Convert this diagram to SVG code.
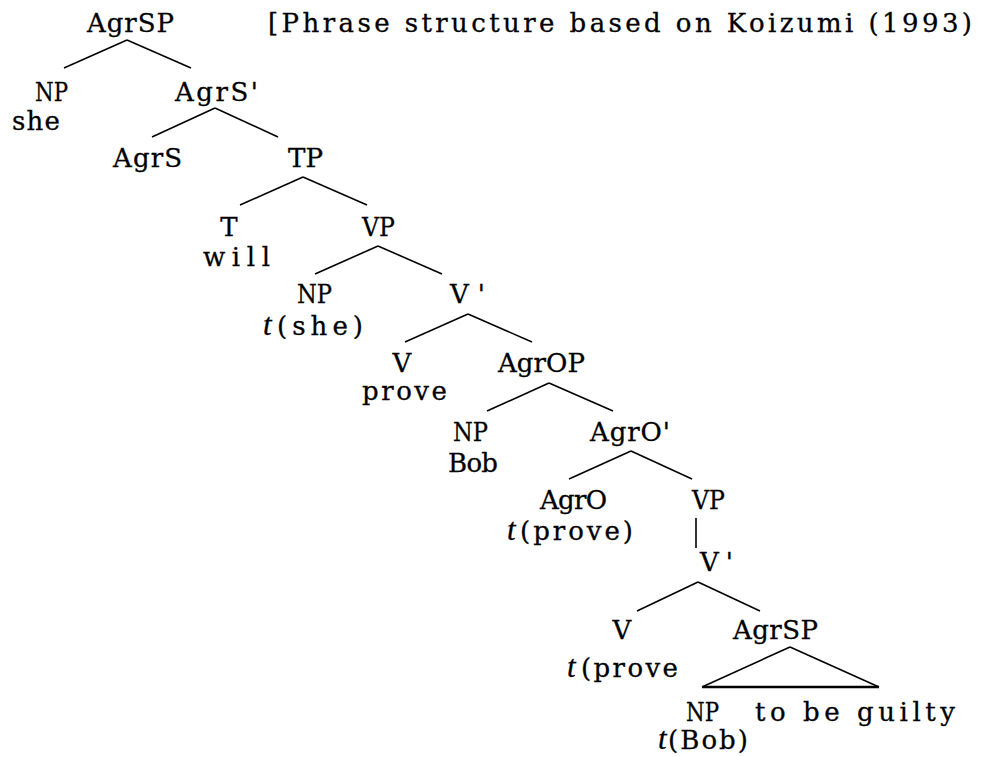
<svg xmlns="http://www.w3.org/2000/svg" width="982" height="757" viewBox="0 0 982 757">
<style>
text{font-family:"DejaVu Serif","Liberation Serif",serif;font-size:26px;fill:#000;stroke:#000;stroke-width:0.3}
.it{font-family:"Liberation Serif","DejaVu Serif",serif;font-style:italic;font-size:31px}
.mid{text-anchor:middle}
.edge line,.edge path{stroke:#000;stroke-width:1.6;fill:none;stroke-linecap:butt}
</style>
<rect width="982" height="757" fill="#fff"/>
<g class="edge" id="connectors">
<line x1="127" y1="40" x2="64" y2="68"/>
<line x1="127" y1="40" x2="191" y2="68"/>
<line x1="215" y1="108" x2="152" y2="137"/>
<line x1="215" y1="108" x2="278" y2="137"/>
<line x1="303" y1="177" x2="240" y2="205"/>
<line x1="303" y1="177" x2="367" y2="205"/>
<line x1="378" y1="246" x2="315" y2="274"/>
<line x1="378" y1="246" x2="442" y2="274"/>
<line x1="468" y1="314" x2="405" y2="342"/>
<line x1="468" y1="314" x2="532" y2="342"/>
<line x1="549" y1="383" x2="487" y2="411"/>
<line x1="549" y1="383" x2="613" y2="411"/>
<line x1="631" y1="451" x2="569" y2="479"/>
<line x1="631" y1="451" x2="692" y2="479"/>
<line x1="696" y1="518" x2="696" y2="548"/>
<line x1="698" y1="582" x2="637" y2="611"/>
<line x1="698" y1="582" x2="760" y2="611"/>
<path d="M790 647 L702 687 M790 647 L879 687"/>
<line x1="702" y1="687" x2="879" y2="687" style="stroke-width:2.4"/>
</g>
<g id="title"><text x="268" y="32" textLength="704" lengthAdjust="spacing">[Phrase structure based on Koizumi (1993)</text></g>
<g id="n-agrsp"><text x="87" y="32" textLength="87" lengthAdjust="spacing">AgrSP</text></g>
<g id="n-np1"><text x="35" y="101" textLength="33" lengthAdjust="spacingAndGlyphs">NP</text><text x="12" y="130" textLength="48" lengthAdjust="spacing">she</text></g>
<g id="n-agrs-bar"><text x="175" y="101" textLength="83" lengthAdjust="spacing">AgrS'</text></g>
<g id="n-agrs"><text x="113" y="167" textLength="69" lengthAdjust="spacing">AgrS</text></g>
<g id="n-tp"><text x="288" y="167" textLength="35" lengthAdjust="spacingAndGlyphs">TP</text></g>
<g id="n-t"><text x="229" y="236" class="mid">T</text><text x="203" y="266" textLength="67" lengthAdjust="spacing">will</text></g>
<g id="n-vp1"><text x="362" y="236" textLength="33" lengthAdjust="spacingAndGlyphs">VP</text></g>
<g id="n-np2"><text x="297" y="303" textLength="35" lengthAdjust="spacingAndGlyphs">NP</text><text x="263" y="335"><tspan class="it">t</tspan></text><text x="277" y="335" textLength="86" lengthAdjust="spacing">(she)</text></g>
<g id="n-vbar1"><text x="450" y="303" textLength="35" lengthAdjust="spacing">V'</text></g>
<g id="n-v1"><text x="402" y="372" class="mid">V</text><text x="362" y="400" textLength="85" lengthAdjust="spacing">prove</text></g>
<g id="n-agrop"><text x="498" y="372" textLength="87" lengthAdjust="spacing">AgrOP</text></g>
<g id="n-np3"><text x="453" y="441" textLength="35" lengthAdjust="spacingAndGlyphs">NP</text><text x="448" y="472" textLength="50" lengthAdjust="spacing">Bob</text></g>
<g id="n-agro-bar"><text x="590" y="441" textLength="80" lengthAdjust="spacing">AgrO'</text></g>
<g id="n-agro"><text x="540" y="509" textLength="67" lengthAdjust="spacing">AgrO</text><text x="507" y="540"><tspan class="it">t</tspan></text><text x="520" y="540" textLength="113" lengthAdjust="spacing">(prove)</text></g>
<g id="n-vp2"><text x="692" y="509" textLength="33" lengthAdjust="spacingAndGlyphs">VP</text></g>
<g id="n-vbar2"><text x="700" y="571" textLength="33" lengthAdjust="spacing">V'</text></g>
<g id="n-v2"><text x="622" y="639" class="mid">V</text><text x="567" y="677"><tspan class="it">t</tspan></text><text x="581" y="677" textLength="97" lengthAdjust="spacing">(prove</text></g>
<g id="n-agrsp2"><text x="733" y="639" textLength="85" lengthAdjust="spacing">AgrSP</text></g>
<g id="n-np4"><text x="686" y="721" textLength="33" lengthAdjust="spacingAndGlyphs">NP</text><text x="658" y="749"><tspan class="it">t</tspan></text><text x="668" y="749" textLength="80" lengthAdjust="spacing">(Bob)</text></g>
<g id="n-guilty"><text x="755" y="721" textLength="200" lengthAdjust="spacing">to be guilty</text></g>
</svg>
